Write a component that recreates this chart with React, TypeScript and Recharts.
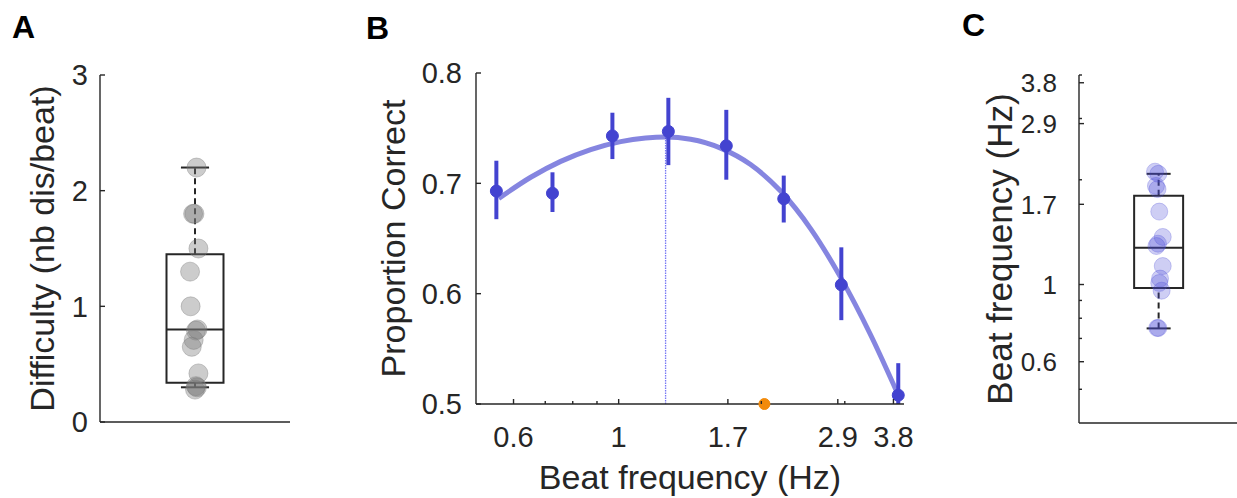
import React from 'react';
import {
  ComposedChart,
  Scatter,
  Line,
  XAxis,
  YAxis,
  ReferenceArea,
  ReferenceLine,
  ErrorBar,
  Label,
} from 'recharts';

const FONT = '"Liberation Sans", Arial, Helvetica, sans-serif';
const INK = '#262626';
const BLUE = '#4343d0';
const ORANGE = '#f28a0a';

// ---------- Panel A: difficulty ----------
const difficultyValues = [2.2, 1.8, 1.8, 1.5, 1.3, 1.0, 0.8, 0.79, 0.71, 0.65, 0.42, 0.31, 0.3, 0.28];
const difficultyJitter = [0.508, 0.49, 0.497, 0.518, 0.474, 0.477, 0.513, 0.505, 0.493, 0.483, 0.518, 0.505, 0.51, 0.5];
// whisker low, q1, median, q3, whisker high
const difficultyBox = [0.3, 0.34, 0.8, 1.45, 2.2];
const difficultyTicks = [0, 1, 2, 3];

// ---------- Panel B: proportion correct vs beat frequency ----------
const beatFreqs = [0.552, 0.725, 0.97, 1.273, 1.687, 2.23, 2.95, 3.89];
const propCorrect = [0.693, 0.691, 0.743, 0.747, 0.734, 0.686, 0.608, 0.508];
const propLow = [0.6675, 0.674, 0.722, 0.7165, 0.7033, 0.6645, 0.576, 0.5];
const propHigh = [0.7205, 0.71, 0.764, 0.7775, 0.7666, 0.707, 0.642, 0.537];
const fitFreqs = [0.5585, 0.6523, 0.7546, 0.8729, 1.0098, 1.14, 1.256, 1.418, 1.641, 1.898, 2.196, 2.54, 2.938, 3.398, 3.893];
const fitValues = [0.6863, 0.7055, 0.7199, 0.7306, 0.7378, 0.741, 0.7419, 0.7399, 0.7319, 0.717, 0.693, 0.659, 0.615, 0.563, 0.5078];
const fitPeak = [1.256, 0.7419];
const chanceMarker = [2.03, 0.5];
const freqTicks = [0.6, 1, 1.7, 2.9, 3.8];
const freqMinorTicksB = [0.7, 0.8, 0.9, 2, 3];
const propTicks = [0.5, 0.6, 0.7, 0.8];

// ---------- Panel C: preferred beat frequency ----------
const preferredFreqs = [2.11, 2.08, 1.92, 1.88, 1.62, 1.37, 1.31, 1.29, 1.13, 1.04, 1.01, 0.96, 0.75, 0.75];
const preferredJitter = [0.481, 0.502, 0.487, 0.497, 0.508, 0.53, 0.5, 0.49, 0.53, 0.513, 0.508, 0.523, 0.502, 0.495];
const preferredBox = [0.748, 0.978, 1.275, 1.8, 2.08];
const freqMinorTicksC = [0.5, 0.7, 0.8, 0.9, 2, 3, 4];

// ---------- derived tables ----------
const pointsA = difficultyValues.map((v, i) => ({ x: difficultyJitter[i], y: v }));
const pointsC = preferredFreqs.map((v, i) => ({ x: preferredJitter[i], y: v }));
const pointsB = beatFreqs.map((f, i) => ({
  x: f,
  y: propCorrect[i],
  err: [propCorrect[i] - propLow[i], propHigh[i] - propCorrect[i]],
}));
const fitData = fitFreqs.map((f, i) => ({ x: f, fit: fitValues[i] }));
const chanceData = [{ x: chanceMarker[0], y: chanceMarker[1] }];

const isIn = (arr: number[], v: number) => arr.some((m) => Math.abs(m - v) < 1e-9);

function makeYTick(major: number[], fontSize: number, gap: number) {
  return (props: any) => {
    const { x, y, payload } = props;
    const v = payload.value;
    const maj = isIn(major, v);
    return (
      <g>
        <line x1={x} y1={y} x2={x + (maj ? 5 : 3)} y2={y} stroke={INK} strokeWidth={1.4} />
        {maj && (
          <text x={x - gap} y={y} dy="0.36em" textAnchor="end" fontSize={fontSize} fontFamily={FONT} fill={INK}>
            {String(v)}
          </text>
        )}
      </g>
    );
  };
}

function makeXTick(major: number[], fontSize: number, baseline: number) {
  return (props: any) => {
    const { x, y, payload } = props;
    const v = payload.value;
    const maj = isIn(major, v);
    return (
      <g>
        <line x1={x} y1={y} x2={x} y2={y - (maj ? 5 : 3)} stroke={INK} strokeWidth={1.4} />
        {maj && (
          <text x={x} y={y + baseline} textAnchor="middle" fontSize={fontSize} fontFamily={FONT} fill={INK}>
            {String(v)}
          </text>
        )}
      </g>
    );
  };
}

const circle = (r: number, fill: string, opacity: number) => (p: any) => (
  <circle cx={p.cx} cy={p.cy} r={r} fill={fill} fillOpacity={opacity} stroke={fill} strokeOpacity={opacity} strokeWidth={1} />
);

function BoxParts(box: number[], center: number, half: number, cap: number) {
  const [wl, q1, med, q3, wh] = box;
  const line = { stroke: INK, strokeWidth: 2 };
  return [
    <ReferenceLine key="wu" segment={[{ x: center, y: q3 }, { x: center, y: wh }]} {...line} strokeDasharray="6 4" ifOverflow="visible" />,
    <ReferenceLine key="wd" segment={[{ x: center, y: wl }, { x: center, y: q1 }]} {...line} strokeDasharray="6 4" ifOverflow="visible" />,
    <ReferenceArea key="box" x1={center - half} x2={center + half} y1={q1} y2={q3} fill="none" fillOpacity={0} {...line} ifOverflow="visible" />,
    <ReferenceLine key="med" segment={[{ x: center - half, y: med }, { x: center + half, y: med }]} {...line} ifOverflow="visible" />,
    <ReferenceLine key="cu" segment={[{ x: center - cap, y: wh }, { x: center + cap, y: wh }]} {...line} ifOverflow="visible" />,
    <ReferenceLine key="cd" segment={[{ x: center - cap, y: wl }, { x: center + cap, y: wl }]} {...line} ifOverflow="visible" />,
  ];
}

const axisLine = { stroke: INK, strokeWidth: 1.4 };
const letterStyle: React.CSSProperties = {
  position: 'absolute',
  fontFamily: FONT,
  fontWeight: 700,
  fontSize: 32,
  lineHeight: '32px',
  color: '#000',
};

export default function App() {
  return (
    <div style={{ position: 'absolute', left: 0, top: 0, width: 1237, height: 498, background: '#fff', overflow: 'hidden' }}>
      <div style={{ ...letterStyle, left: 12, top: 11 }}>A</div>
      <div style={{ ...letterStyle, left: 366, top: 12 }}>B</div>
      <div style={{ ...letterStyle, left: 962, top: 9 }}>C</div>

      {/* Panel A */}
      <div style={{ position: 'absolute', left: 0, top: 0 }}>
        <ComposedChart width={300} height={498} margin={{ top: 75, right: 10, bottom: 66, left: 60 }}>
          <XAxis type="number" dataKey="x" domain={[0, 1]} height={10} tick={false} tickLine={false} axisLine={axisLine} />
          <YAxis
            type="number"
            domain={[0, 3]}
            ticks={difficultyTicks}
            width={40}
            tickSize={0}
            tickMargin={0}
            tickLine={false}
            axisLine={axisLine}
            tick={makeYTick(difficultyTicks, 29, 12)}
            interval={0}
          >
            <Label
              value="Difficulty (nb dis/beat)"
              angle={-90}
              position="left"
              offset={18}
              fontSize={34}
              fill={INK}
              style={{ textAnchor: 'middle', fontFamily: FONT, fontSize: 34, fill: INK }}
            />
          </YAxis>
          {BoxParts(difficultyBox, 0.5, 0.15, 0.074)}
          <Scatter data={pointsA} dataKey="y" isAnimationActive={false} shape={circle(9.5, '#7a7a7a', 0.38)} />
        </ComposedChart>
      </div>

      {/* Panel B */}
      <div style={{ position: 'absolute', left: 300, top: 0 }}>
        <ComposedChart width={620} height={498} data={fitData} margin={{ top: 73, right: 16, bottom: 84, left: 116 }}>
          <XAxis
            type="number"
            dataKey="x"
            scale="log"
            domain={[0.5, 4]}
            ticks={[...freqTicks, ...freqMinorTicksB].sort((a, b) => a - b)}
            interval={0}
            height={10}
            tickSize={0}
            tickMargin={0}
            tickLine={false}
            axisLine={axisLine}
            tick={makeXTick(freqTicks, 29, 43)}
          >
            <Label
              value="Beat frequency (Hz)"
              position="bottom"
              offset={51}
              fontSize={34}
              fill={INK}
              style={{ fontFamily: FONT, fontSize: 34, fill: INK }}
            />
          </XAxis>
          <YAxis
            type="number"
            domain={[0.5, 0.8]}
            ticks={propTicks}
            interval={0}
            width={60}
            tickSize={0}
            tickMargin={0}
            tickLine={false}
            axisLine={axisLine}
            tick={makeYTick(propTicks, 29, 14)}
          >
            <Label
              value="Proportion Correct"
              angle={-90}
              position="left"
              offset={23}
              fontSize={34}
              fill={INK}
              style={{ textAnchor: 'middle', fontFamily: FONT, fontSize: 34, fill: INK }}
            />
          </YAxis>
          <ReferenceLine
            segment={[{ x: fitPeak[0], y: 0.5 }, { x: fitPeak[0], y: fitPeak[1] }]}
            stroke="#5f5ff2"
            strokeOpacity={0.85}
            strokeWidth={1.3}
            strokeDasharray="1.5 1"
            ifOverflow="visible"
          />
          <Line
            dataKey="fit"
            type="monotone"
            stroke={BLUE}
            strokeOpacity={0.65}
            strokeWidth={5}
            dot={false}
            activeDot={false}
            isAnimationActive={false}
          />
          <Scatter data={pointsB} dataKey="y" isAnimationActive={false} shape={circle(6, BLUE, 1)}>
            <ErrorBar dataKey="err" direction="y" width={0} stroke={BLUE} strokeWidth={4} />
          </Scatter>
          <Scatter data={chanceData} dataKey="y" isAnimationActive={false} shape={circle(5.5, ORANGE, 1)} />
        </ComposedChart>
      </div>

      {/* Panel C */}
      <div style={{ position: 'absolute', left: 960, top: 0 }}>
        <ComposedChart width={277} height={498} margin={{ top: 75, right: 0, bottom: 65, left: 59 }}>
          <XAxis type="number" dataKey="x" domain={[0, 1]} height={10} tick={false} tickLine={false} axisLine={axisLine} />
          <YAxis
            type="number"
            scale="log"
            domain={[0.4, 4]}
            ticks={[...freqTicks, ...freqMinorTicksC].sort((a, b) => a - b)}
            interval={0}
            width={60}
            tickSize={0}
            tickMargin={0}
            tickLine={false}
            axisLine={axisLine}
            tick={makeYTick(freqTicks, 26, 22)}
          >
            <Label
              value="Beat frequency (Hz)"
              angle={-90}
              position="left"
              offset={27}
              fontSize={35}
              fill={INK}
              dx={8}
              style={{ textAnchor: 'middle', fontFamily: FONT, fontSize: 35, fill: INK }}
            />
          </YAxis>
          {BoxParts(preferredBox, 0.504, 0.155, 0.076)}
          <Scatter data={pointsC} dataKey="y" isAnimationActive={false} shape={circle(8.5, '#4b4bd8', 0.27)} />
        </ComposedChart>
      </div>
    </div>
  );
}
